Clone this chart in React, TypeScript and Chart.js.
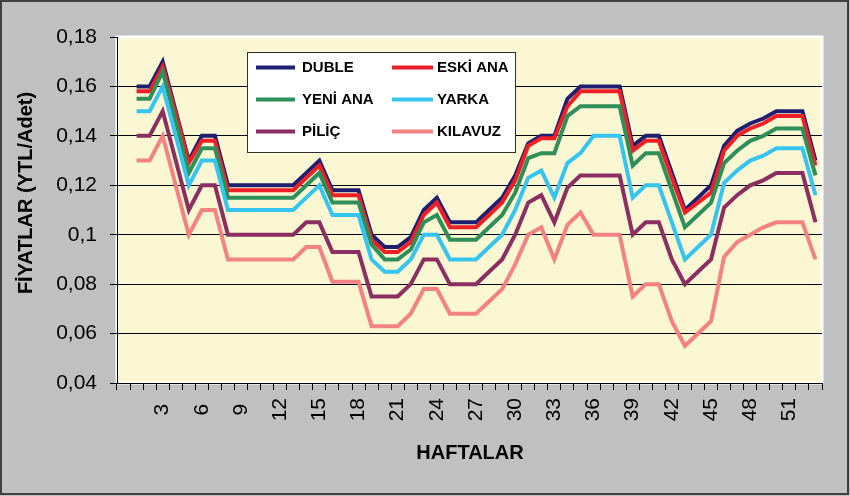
import React, { useEffect, useRef } from "react";
import { Chart, registerables } from "chart.js";

Chart.register(...registerables);

const WEEKS = ["", "1", "2", "3", "4", "5", "6", "7", "8", "9", "10", "11", "12", "13", "14", "15", "16", "17", "18", "19", "20", "21", "22", "23", "24", "25", "26", "27", "28", "29", "30", "31", "32", "33", "34", "35", "36", "37", "38", "39", "40", "41", "42", "43", "44", "45", "46", "47", "48", "49", "50", "51", "52", "53"];

const DUBLE = [0.16, 0.16, 0.17, 0.15, 0.13, 0.14, 0.14, 0.12, 0.12, 0.12, 0.12, 0.12, 0.12, 0.125, 0.13, 0.118, 0.118, 0.118, 0.1, 0.095, 0.095, 0.099, 0.11, 0.115, 0.105, 0.105, 0.105, 0.11, 0.115, 0.124, 0.137, 0.14, 0.14, 0.155, 0.16, 0.16, 0.16, 0.16, 0.136, 0.14, 0.14, 0.125, 0.11, 0.115, 0.12, 0.136, 0.142, 0.145, 0.147, 0.15, 0.15, 0.15, 0.13];
const ESKI_ANA = [0.158, 0.158, 0.168, 0.149, 0.129, 0.138, 0.138, 0.118, 0.118, 0.118, 0.118, 0.118, 0.118, 0.123, 0.128, 0.116, 0.116, 0.116, 0.098, 0.093, 0.093, 0.097, 0.108, 0.113, 0.103, 0.103, 0.103, 0.108, 0.113, 0.122, 0.136, 0.139, 0.139, 0.152, 0.158, 0.158, 0.158, 0.158, 0.134, 0.138, 0.138, 0.123, 0.109, 0.113, 0.117, 0.134, 0.14, 0.143, 0.145, 0.148, 0.148, 0.148, 0.128];
const YENI_ANA = [0.155, 0.155, 0.166, 0.146, 0.125, 0.135, 0.135, 0.115, 0.115, 0.115, 0.115, 0.115, 0.115, 0.12, 0.125, 0.113, 0.113, 0.113, 0.096, 0.09, 0.09, 0.094, 0.105, 0.108, 0.098, 0.098, 0.098, 0.103, 0.108, 0.117, 0.131, 0.133, 0.133, 0.148, 0.152, 0.152, 0.152, 0.152, 0.128, 0.133, 0.133, 0.118, 0.103, 0.108, 0.113, 0.129, 0.134, 0.138, 0.14, 0.143, 0.143, 0.143, 0.124];
const YARKA = [0.15, 0.15, 0.16, 0.14, 0.12, 0.13, 0.13, 0.11, 0.11, 0.11, 0.11, 0.11, 0.11, 0.115, 0.12, 0.108, 0.108, 0.108, 0.09, 0.085, 0.085, 0.09, 0.1, 0.1, 0.09, 0.09, 0.09, 0.095, 0.1, 0.11, 0.123, 0.126, 0.115, 0.129, 0.133, 0.14, 0.14, 0.14, 0.115, 0.12, 0.12, 0.105, 0.09, 0.095, 0.1, 0.121, 0.126, 0.13, 0.132, 0.135, 0.135, 0.135, 0.116];
const PILIC = [0.14, 0.14, 0.15, 0.13, 0.11, 0.12, 0.12, 0.1, 0.1, 0.1, 0.1, 0.1, 0.1, 0.105, 0.105, 0.093, 0.093, 0.093, 0.075, 0.075, 0.075, 0.08, 0.09, 0.09, 0.08, 0.08, 0.08, 0.085, 0.09, 0.1, 0.113, 0.116, 0.105, 0.119, 0.124, 0.124, 0.124, 0.124, 0.1, 0.105, 0.105, 0.09, 0.08, 0.085, 0.09, 0.111, 0.116, 0.12, 0.122, 0.125, 0.125, 0.125, 0.105];
const KILAVUZ = [0.13, 0.13, 0.14, 0.12, 0.1, 0.11, 0.11, 0.09, 0.09, 0.09, 0.09, 0.09, 0.09, 0.095, 0.095, 0.081, 0.081, 0.081, 0.063, 0.063, 0.063, 0.068, 0.078, 0.078, 0.068, 0.068, 0.068, 0.073, 0.078, 0.088, 0.1, 0.103, 0.09, 0.104, 0.109, 0.1, 0.1, 0.1, 0.075, 0.08, 0.08, 0.065, 0.055, 0.06, 0.065, 0.091, 0.097, 0.1, 0.103, 0.105, 0.105, 0.105, 0.09];

const SERIES_NAMES = ["DUBLE", "ESKİ ANA", "YENİ ANA", "YARKA", "PİLİÇ", "KILAVUZ"];
const SERIES_VALUES = [DUBLE, ESKI_ANA, YENI_ANA, YARKA, PILIC, KILAVUZ];
const SERIES_COLORS = ["#1f1f72", "#ee2026", "#2f8f5a", "#35c5f0", "#8b2e62", "#f58282"];

const Y_MIN = 0.04;
const Y_MAX = 0.18;
const Y_STEP = 0.02;
const X_TITLE = "HAFTALAR";
const Y_TITLE = "FİYATLAR (YTL/Adet)";

const FONT = "'Liberation Sans', Arial, sans-serif";

const decorPlugin = {
  id: "decor",
  beforeDraw(chart: any) {
    const { ctx, chartArea: a } = chart;
    ctx.save();
    ctx.fillStyle = "#c0c0c0";
    ctx.fillRect(0, 0, chart.width, chart.height);
    ctx.strokeStyle = "#404040";
    ctx.lineWidth = 2;
    ctx.strokeRect(1, 1, chart.width - 3, chart.height - 3);
    ctx.fillStyle = "#faf7d2";
    ctx.fillRect(a.left, a.top, a.right - a.left, a.bottom - a.top);
    ctx.strokeStyle = "#ffffff";
    ctx.lineWidth = 3;
    ctx.strokeRect(a.left, a.top, a.right - a.left, a.bottom - a.top);
    ctx.restore();
  },
  afterDatasetsDraw(chart: any) {
    const { ctx } = chart;
    ctx.save();
    // legend box
    const bx = 247.5, by = 52.5, bw = 268, bh = 100;
    ctx.fillStyle = "#ffffff";
    ctx.fillRect(bx, by, bw, bh);
    ctx.strokeStyle = "#303030";
    ctx.lineWidth = 1;
    ctx.strokeRect(bx, by, bw, bh);
    const colLine = [[256, 295], [392, 433]];
    const colText = [302, 437];
    const rows = [67.5, 99.5, 131.5];
    ctx.font = `bold 15px ${FONT}`;
    ctx.textBaseline = "middle";
    ctx.textAlign = "left";
    chart.data.datasets.forEach((ds: any, i: number) => {
      const c = i % 2;
      const r = Math.floor(i / 2);
      ctx.strokeStyle = ds.borderColor;
      ctx.lineWidth = 4;
      ctx.lineCap = "butt";
      ctx.beginPath();
      ctx.moveTo(colLine[c][0], rows[r]);
      ctx.lineTo(colLine[c][1], rows[r]);
      ctx.stroke();
      ctx.fillStyle = "#000000";
      ctx.fillText(ds.label, colText[c], rows[r] + 0.5);
    });
    // axis titles
    ctx.font = `bold 20px ${FONT}`;
    ctx.fillStyle = "#000000";
    ctx.textAlign = "center";
    ctx.textBaseline = "middle";
    ctx.fillText(X_TITLE, 470, 453);
    ctx.translate(26, 193);
    ctx.rotate(-Math.PI / 2);
    ctx.fillText(Y_TITLE, 0, 0);
    ctx.restore();
  },
};

export default function App() {
  const ref = useRef<HTMLCanvasElement | null>(null);

  useEffect(() => {
    if (!ref.current) return;
    const datasets = SERIES_NAMES.map((name, i) => ({
      label: name,
      data: [null, ...SERIES_VALUES[i]],
      borderColor: SERIES_COLORS[i],
      backgroundColor: SERIES_COLORS[i],
      borderWidth: 4,
      pointRadius: 0,
      pointHoverRadius: 0,
      tension: 0,
      fill: false,
      order: SERIES_NAMES.length - i,
    }));
    const chart = new Chart(ref.current, {
      type: "line",
      data: { labels: WEEKS, datasets },
      plugins: [decorPlugin],
      options: {
        animation: false,
        responsive: false,
        devicePixelRatio: 1,
        layout: { padding: { top: 37, right: 28, left: 0, bottom: 0 } },
        plugins: { legend: { display: false }, tooltip: { enabled: false } },
        scales: {
          x: {
            type: "category",
            offset: true,
            afterFit: (s: any) => {
              s.height = 113;
            },
            border: { display: true, color: "#000000", width: 1 },
            grid: {
              display: true,
              offset: true,
              drawOnChartArea: false,
              drawTicks: true,
              tickLength: 7,
              color: "#000000",
              tickColor: "#000000",
            },
            ticks: {
              autoSkip: false,
              maxRotation: 90,
              minRotation: 90,
              padding: 8,
              color: "#000000",
              font: { family: FONT, size: 21 },
              callback: (_v: any, i: number) => {
                if (i > 0 && i % 3 === 0) {
                  const l = WEEKS[i];
                  return l.length === 1 ? l + " " : l;
                }
                return "";
              },
            },
          },
          y: {
            min: Y_MIN,
            max: Y_MAX,
            afterFit: (s: any) => {
              s.width = 117;
            },
            border: { display: true, color: "#000000", width: 1 },
            grid: {
              display: true,
              drawTicks: true,
              tickLength: 7,
              color: (c: any) => (c.tick && c.tick.value > Y_MAX - 0.001 ? "rgba(0,0,0,0)" : "#000000"),
              tickColor: "#000000",
            },
            ticks: {
              stepSize: Y_STEP,
              padding: 13,
              color: "#000000",
              font: { family: FONT, size: 21 },
              callback: (v: any) => String(+Number(v).toFixed(2)).replace(".", ","),
            },
          },
        },
      },
    });
    return () => chart.destroy();
  }, []);

  return (
    <div style={{ position: "absolute", left: 0, top: 0, width: 850, height: 496 }}>
      <canvas ref={ref} width={850} height={496} style={{ display: "block", width: 850, height: 496 }} />
    </div>
  );
}
